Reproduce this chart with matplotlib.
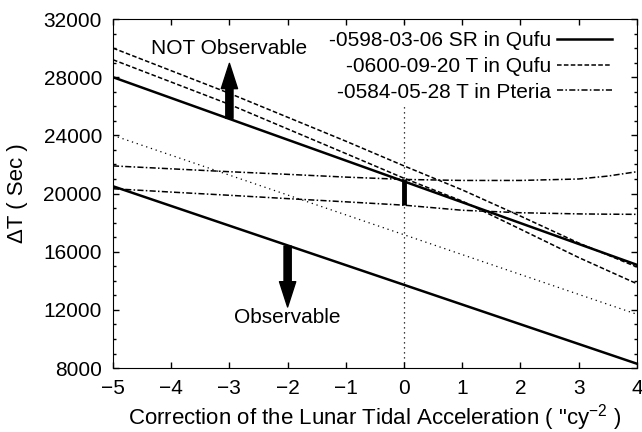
import matplotlib.pyplot as plt
import numpy as np

plt.rcParams['font.family'] = ['Liberation Sans', 'DejaVu Sans']
plt.rcParams['mathtext.fontset'] = 'custom'
plt.rcParams['mathtext.rm'] = 'Liberation Sans'

# --- Data ---
x_sr = [-5, 4]
sr_upper = [28000, 15100]     # -0598-03-06 SR in Qufu, upper limit
sr_lower = [20500, 8300]      # lower limit

x_dash = [-5, -3, -1, 0, 1, 2, 3, 4]
qufu_a = [30000, 26890, 23600, 21900, 20250, 18450, 16600, 14950]
qufu_b = [29200, 26130, 22750, 21050, 19480, 17550, 15600, 13800]

x_dot = [-5, 4]
dotted = [24000, 11700]

x_pt = [-5, -4, -3, -2, -1, 0, 1, 2, 3, 3.5, 4]
pteria_a = [21900, 21700, 21500, 21320, 21130, 20970, 20900, 20900, 21000, 21200, 21500]
pteria_b = [20330, 20100, 19880, 19650, 19430, 19200, 18850, 18680, 18600, 18580, 18570]

labels = ['-0598-03-06 SR in Qufu', '-0600-09-20 T in Qufu', '-0584-05-28 T in Pteria']

# --- Plotting ---
fig = plt.figure(figsize=(6.42, 4.32), dpi=100)
ax = fig.add_axes([0.176, 0.148, 0.816, 0.808])

ax.axvline(0, color='k', lw=0.9, ls=(0, (1, 3)))
ax.plot(x_dot, dotted, color='k', lw=0.9, ls=(0, (1, 3)))

l1, = ax.plot(x_sr, sr_upper, color='k', lw=1.8, label=labels[0])
ax.plot(x_sr, sr_lower, color='k', lw=1.8)
l2, = ax.plot(x_dash, qufu_a, color='k', lw=1.1, ls=(0, (3, 1.5)), label=labels[1])
ax.plot(x_dash, qufu_b, color='k', lw=1.1, ls=(0, (3, 1.5)))
l3, = ax.plot(x_pt, pteria_a, color='k', lw=1.1, ls=(0, (4, 1.5, 1, 1.5)), label=labels[2])
ax.plot(x_pt, pteria_b, color='k', lw=1.1, ls=(0, (4, 1.5, 1, 1.5)))

# thick bar at zero correction
ax.plot([0, 0], [19200, 20970], color='k', lw=3.5, solid_capstyle='butt')

# arrows
arrow_style = 'simple,head_length=1.4,head_width=0.9,tail_width=0.4'
ax.annotate('', xy=(-3, 28950), xytext=(-3, 25170),
            arrowprops=dict(arrowstyle=arrow_style, color='k', mutation_scale=13,
                            shrinkA=0, shrinkB=0))
ax.annotate('', xy=(-2, 12200), xytext=(-2, 16390),
            arrowprops=dict(arrowstyle=arrow_style, color='k', mutation_scale=13,
                            shrinkA=0, shrinkB=0))
ax.text(-3, 30000, 'NOT Observable', ha='center', va='center', fontsize=15)
ax.text(-2, 11500, 'Observable', ha='center', va='center', fontsize=15)

ax.set_xlim(-5, 4)
ax.set_ylim(8000, 32000)
ax.set_xticks(range(-5, 5))
ax.set_xticklabels([('\u2212%d' % -v) if v < 0 else str(v) for v in range(-5, 5)])
ax.set_yticks(range(8000, 32001, 4000))
ax.set_yticks(range(8000, 32001, 1000), minor=True)
ax.tick_params(which='both', direction='in', top=True, right=True, labelsize=15)
ax.tick_params(which='major', length=4.5, width=1)
ax.tick_params(which='minor', length=2.5, width=1)
ax.tick_params(axis='x', pad=8)
ax.tick_params(axis='y', pad=8)

ax.set_xlabel('Correction of the Lunar Tidal Acceleration ( "cy$^{-2}$ )', fontsize=16, labelpad=3)
ax.set_ylabel('\u0394T ( Sec )', fontsize=16, labelpad=11)

leg = ax.legend(handles=[l1, l2, l3], loc='upper right', bbox_to_anchor=(0.960, 0.977),
                markerfirst=False, fontsize=15, handlelength=2.65, handletextpad=0.25,
                labelspacing=0.32, borderaxespad=0, borderpad=0.2,
                frameon=True, fancybox=False)
leg.get_frame().set_edgecolor('none')
leg.get_frame().set_facecolor('white')
leg.get_frame().set_alpha(1)
for t in leg.get_texts():
    t.set_ha('right')

plt.savefig('out.png', dpi=100)
